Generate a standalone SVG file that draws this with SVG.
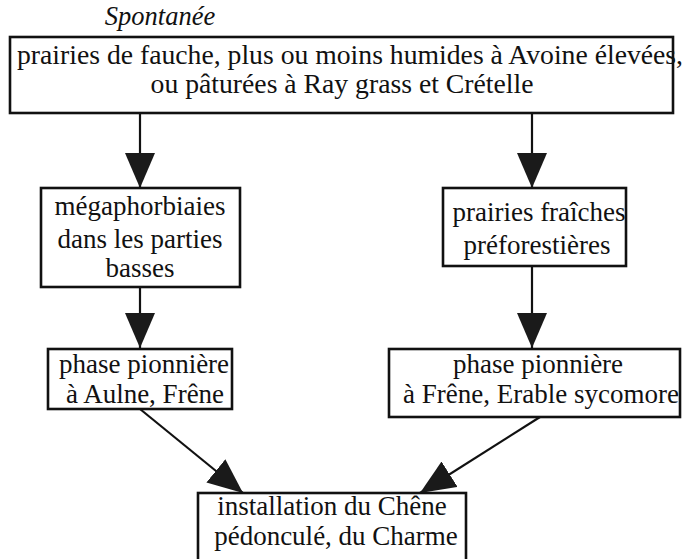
<svg xmlns="http://www.w3.org/2000/svg" width="686" height="559" viewBox="0 0 686 559">
<style>
.box{fill:none;stroke:#111;stroke-width:2.6}
.t{font-family:"Liberation Serif","Times New Roman",serif;font-size:27px;fill:#111;text-anchor:middle}
.big{font-size:27.7px}
.conn{stroke:#111;stroke-width:2.2;fill:none;marker-end:url(#ah)}
</style>
<defs>
<marker id="ah" markerUnits="userSpaceOnUse" markerWidth="36" markerHeight="31" refX="35" refY="15" orient="auto">
<path d="M0,0 L35,15 L0,30 z" fill="#1a1a1a"/>
</marker>
</defs>
<rect width="686" height="559" fill="#fff"/>
<text x="160" y="25" style="font-family:'Liberation Serif','Times New Roman',serif;font-style:italic;font-size:26.5px;fill:#111;text-anchor:middle">Spontanée</text>
<g id="connectors">
<line class="conn" x1="140" y1="113" x2="140" y2="188"/>
<line class="conn" x1="532" y1="113" x2="532" y2="188"/>
<line class="conn" x1="140" y1="287" x2="140" y2="348"/>
<line class="conn" x1="532" y1="266" x2="532" y2="348"/>
<line class="conn" x1="140" y1="409" x2="243" y2="493"/>
<line class="conn" x1="540" y1="417" x2="420" y2="493"/>
</g>
<g id="n-prairies">
<rect class="box" x="10" y="37" width="663" height="76"/>
<text class="t big" x="350" y="64">prairies de fauche, plus ou moins humides à Avoine élevées,</text>
<text class="t big" x="342" y="93">ou pâturées à Ray grass et Crételle</text>
</g>
<g id="n-megaphorbiaies">
<rect class="box" x="41" y="188" width="199" height="99"/>
<text class="t" x="140" y="215">mégaphorbiaies</text>
<text class="t" x="140" y="248">dans les parties</text>
<text class="t" x="140" y="277">basses</text>
</g>
<g id="n-fraiches">
<rect class="box" x="443" y="188" width="183" height="78"/>
<text class="t" x="539" y="221">prairies fraîches</text>
<text class="t" x="537" y="254">préforestières</text>
</g>
<g id="n-pionniere-aulne">
<rect class="box" x="48" y="349" width="184" height="60"/>
<text class="t" x="144" y="373">phase pionnière</text>
<text class="t" x="145" y="403">à Aulne, Frêne</text>
</g>
<g id="n-pionniere-erable">
<rect class="box" x="389" y="349" width="291" height="68"/>
<text class="t" x="538" y="373">phase pionnière</text>
<text class="t" x="541" y="403">à Frêne, Erable sycomore</text>
</g>
<g id="n-chene">
<rect class="box" x="198" y="493" width="268" height="80"/>
<text class="t" x="332" y="515">installation du Chêne</text>
<text class="t" x="336" y="545">pédonculé, du Charme</text>
</g>
</svg>
